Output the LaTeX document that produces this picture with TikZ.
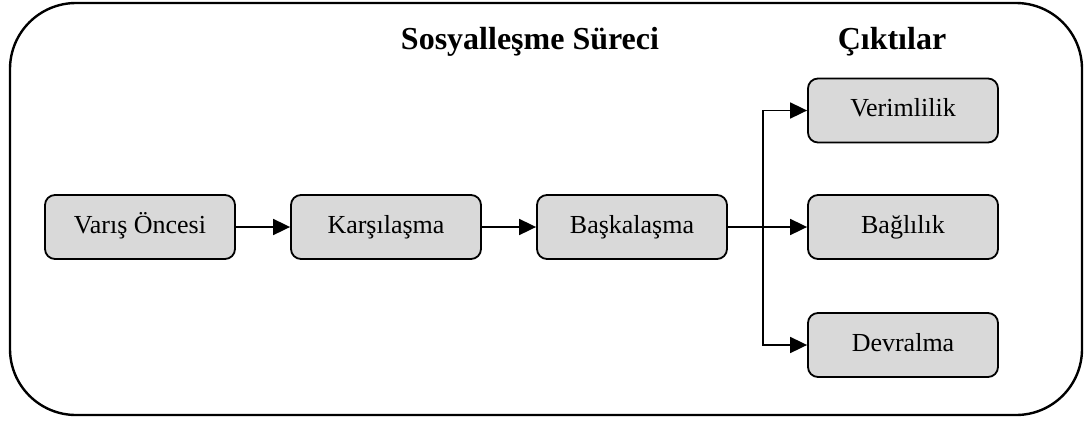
\documentclass[tikz,border=0pt]{standalone}
\usepackage{fontspec}
\setmainfont{Liberation Serif}
\usetikzlibrary{arrows.meta}
\begin{document}
\begin{tikzpicture}[x=1pt,y=-1pt,
  stage/.style={draw=black, line width=1.8pt, fill=boxgray, rounded corners=10pt,
    minimum width=190pt, minimum height=64pt, inner sep=0pt,
    text height=18pt, text depth=6pt,
    font=\fontsize{26}{30}\selectfont},
  heading/.style={font=\fontsize{32}{36}\selectfont\bfseries, inner sep=0pt, anchor=base},
  flow/.style={line width=1.8pt, -{Triangle[length=17pt,width=16pt]}}]
\definecolor{boxgray}{HTML}{D9D9D9}
\useasboundingbox (0,0) rectangle (1090,421);
% outer frame
\draw[line width=2.4pt, rounded corners=66pt] (10,3) rectangle (1082,415);
% headings
\node[heading] (proc) at (530,49) {Sosyalleşme Süreci};
\node[heading] (out) at (892,49) {Çıktılar};
% socialisation stages
\node[stage] (pre) at (140,227) {Varış Öncesi};
\node[stage] (enc) at (386,227) {Karşılaşma};
\node[stage] (chg) at (632,227) {Başkalaşma};
% outcomes
\node[stage] (prod) at (903,110.5) {Verimlilik};
\node[stage] (comm) at (903,227) {Bağlılık};
\node[stage] (ret)  at (903,345) {Devralma};
% branching point
\coordinate (split) at (763,227);
% connectors
\draw[flow] (pre.east) -- (enc.west);
\draw[flow] (enc.east) -- (chg.west);
\draw[flow] (chg.east) -- (comm.west);
\draw[flow] (chg.east) -- (split) |- (prod.west);
\draw[flow] (chg.east) -- (split) |- (ret.west);
\end{tikzpicture}
\end{document}
